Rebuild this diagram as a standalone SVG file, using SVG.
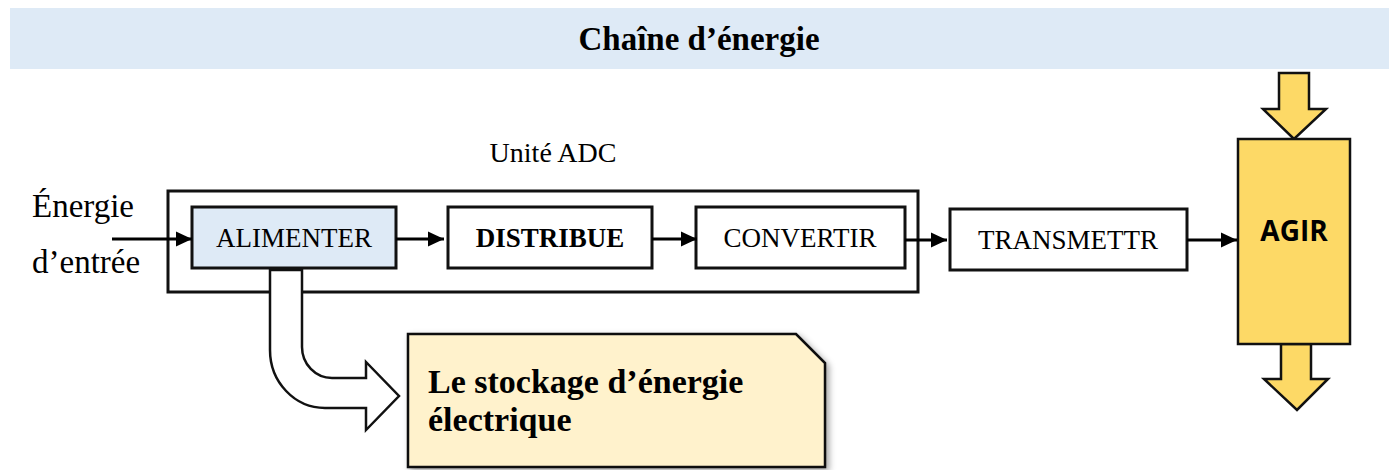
<svg xmlns="http://www.w3.org/2000/svg" width="1394" height="470" viewBox="0 0 1394 470">
  <defs>
    <style>
      .serif { font-family: "Liberation Serif", "DejaVu Serif", serif; fill: #000; }
      .box { fill: #fff; stroke: #111; stroke-width: 3; }
      .blue { fill: #deeaf6; }
      .gold { fill: #fdd966; stroke: #111; stroke-width: 2.5; }
      .conn { fill: none; stroke: #000; stroke-width: 3; marker-end: url(#arrow); }
      .lbl { font-size: 27px; text-anchor: middle; }
    </style>
    <marker id="arrow" markerUnits="userSpaceOnUse" markerWidth="16" markerHeight="16" refX="16" refY="8" orient="auto">
      <path d="M0,0.5 L16,8 L0,15.5 Z" fill="#000"/>
    </marker>
    <filter id="shadow" x="-10%" y="-10%" width="130%" height="140%">
      <feDropShadow dx="3" dy="3" stdDeviation="3" flood-color="#000" flood-opacity="0.35"/>
    </filter>
  </defs>

  <g id="header">
    <rect x="10" y="8" width="1379" height="61" class="blue"/>
    <text x="699" y="50" class="serif" font-size="33" font-weight="bold" text-anchor="middle">Chaîne d’énergie</text>
  </g>

  <g id="input-label">
    <text x="32" y="217" class="serif" font-size="33">Énergie</text>
    <text x="32" y="273" class="serif" font-size="33">d’entrée</text>
  </g>

  <g id="unite-adc">
    <rect x="168" y="191" width="750" height="101" fill="none" stroke="#111" stroke-width="3"/>
    <text x="553" y="162" class="serif" font-size="28" text-anchor="middle">Unité ADC</text>
  </g>

  <g id="storage-arrow">
    <path d="M270,270 L270,350 A55 58 0 0 0 325,408 L366,408 L366,430 L399,396 L366,362 L366,378 L332,378 A30 31 0 0 1 302,347 L302,270 Z" fill="#fff" stroke="#111" stroke-width="2.5" stroke-linejoin="miter"/>
  </g>

  <g id="alimenter">
    <rect x="192" y="207" width="204" height="61" class="box" style="fill:#deeaf6"/>
    <text x="294" y="247" class="serif lbl">ALIMENTER</text>
  </g>

  <g id="distribue">
    <rect x="448" y="207" width="204" height="61" class="box"/>
    <text x="550" y="247" class="serif lbl" font-weight="bold">DISTRIBUE</text>
  </g>

  <g id="convertir">
    <rect x="696" y="207" width="209" height="61" class="box"/>
    <text x="800" y="247" class="serif lbl">CONVERTIR</text>
  </g>

  <g id="transmettre">
    <rect x="950" y="209" width="237" height="61" class="box"/>
    <text x="1068" y="249" class="serif lbl">TRANSMETTR</text>
  </g>

  <g id="agir">
    <path d="M1279,73 L1309,73 L1309,109 L1326,109 L1294,139 L1263,109 L1279,109 Z" class="gold"/>
    <path d="M1281,344 L1311,344 L1311,379 L1328,379 L1297,410 L1264,379 L1281,379 Z" class="gold"/>
    <rect x="1238" y="139" width="112" height="205" class="gold"/>
    <text x="1294" y="241" font-family="'Open Sans', 'DejaVu Sans', sans-serif" font-size="28" font-weight="bold" text-anchor="middle" fill="#000">AGIR</text>
  </g>

  <g id="stockage">
    <path d="M408,334 L796,334 L825,363 L825,467 L408,467 Z" fill="#fff2cc" stroke="#111" stroke-width="2.5" filter="url(#shadow)"/>
    <text x="428" y="393" class="serif" font-size="34" font-weight="bold">Le stockage d’énergie</text>
    <text x="428" y="431" class="serif" font-size="34" font-weight="bold">électrique</text>
  </g>

  <g id="connectors">
    <line x1="112" y1="239" x2="192" y2="239" class="conn"/>
    <line x1="396" y1="239" x2="444" y2="239" class="conn"/>
    <line x1="652" y1="239" x2="697" y2="239" class="conn"/>
    <line x1="905" y1="240" x2="947" y2="240" class="conn"/>
    <line x1="1187" y1="240" x2="1237" y2="240" class="conn"/>
  </g>
</svg>
